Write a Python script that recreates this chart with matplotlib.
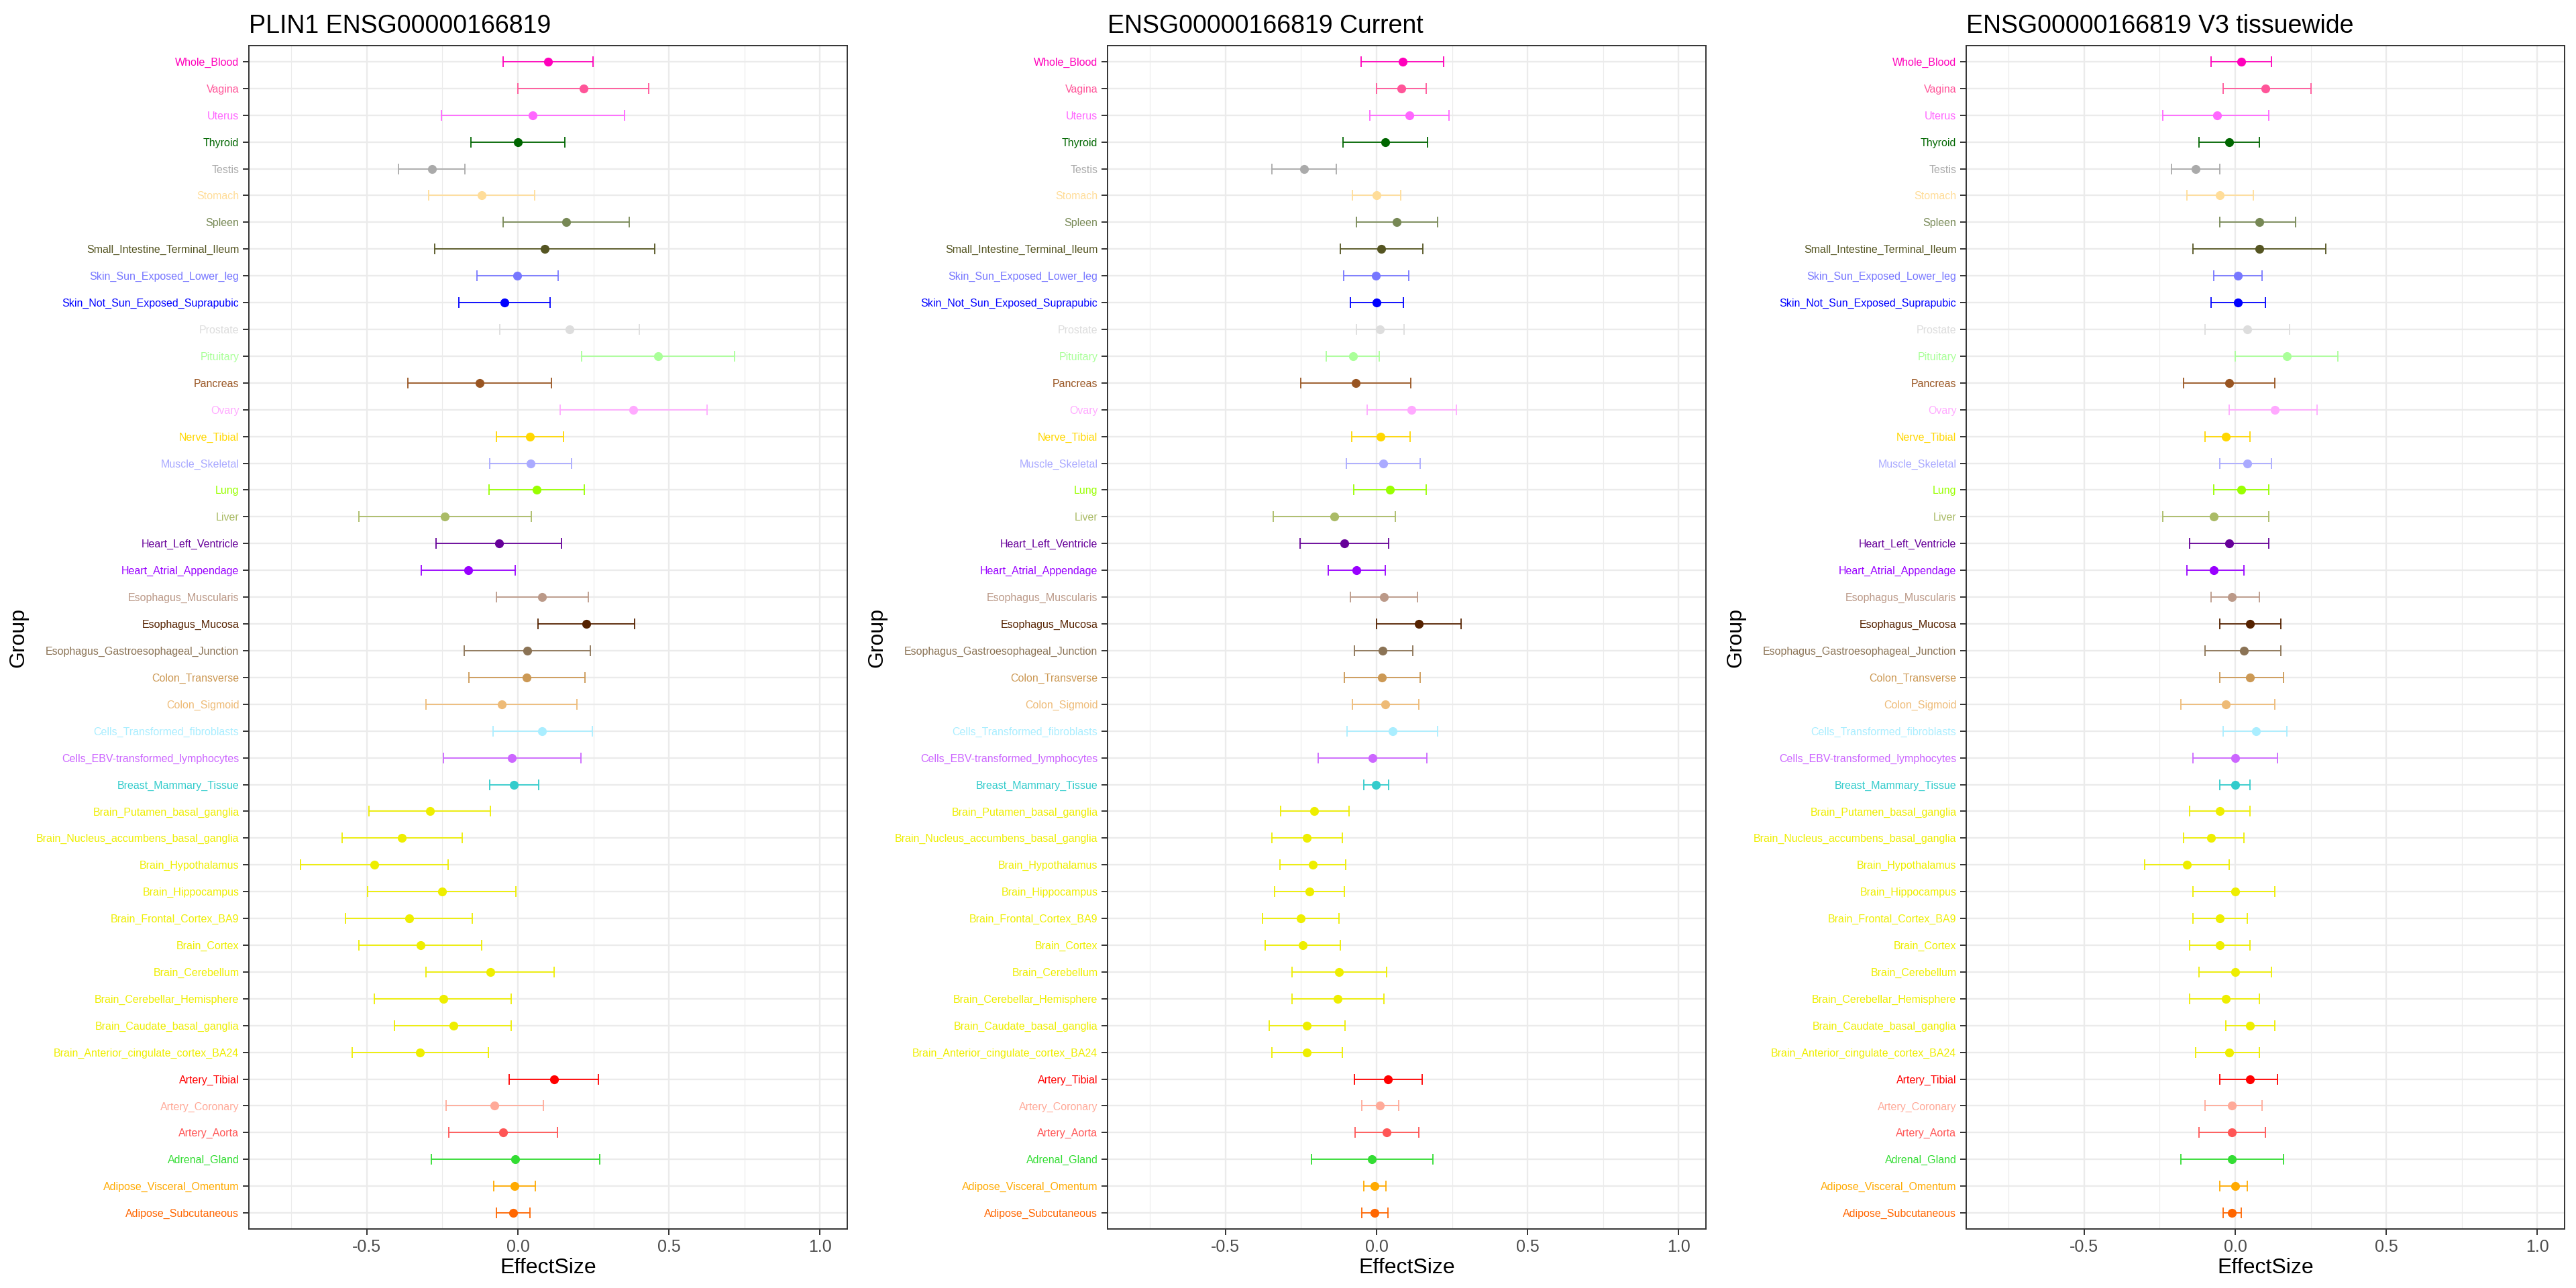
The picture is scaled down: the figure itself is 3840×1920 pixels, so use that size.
import matplotlib
matplotlib.use("Agg")
import matplotlib.pyplot as plt
from matplotlib.ticker import MultipleLocator

plt.rcParams['font.family'] = ['Liberation Sans', 'DejaVu Sans']

# tissues, top of the chart first
tissues = ["Whole_Blood", "Vagina", "Uterus", "Thyroid", "Testis", "Stomach", "Spleen",
           "Small_Intestine_Terminal_Ileum", "Skin_Sun_Exposed_Lower_leg",
           "Skin_Not_Sun_Exposed_Suprapubic", "Prostate", "Pituitary", "Pancreas", "Ovary",
           "Nerve_Tibial", "Muscle_Skeletal", "Lung", "Liver", "Heart_Left_Ventricle",
           "Heart_Atrial_Appendage", "Esophagus_Muscularis", "Esophagus_Mucosa",
           "Esophagus_Gastroesophageal_Junction", "Colon_Transverse", "Colon_Sigmoid",
           "Cells_Transformed_fibroblasts", "Cells_EBV-transformed_lymphocytes",
           "Breast_Mammary_Tissue", "Brain_Putamen_basal_ganglia",
           "Brain_Nucleus_accumbens_basal_ganglia", "Brain_Hypothalamus", "Brain_Hippocampus",
           "Brain_Frontal_Cortex_BA9", "Brain_Cortex", "Brain_Cerebellum",
           "Brain_Cerebellar_Hemisphere", "Brain_Caudate_basal_ganglia",
           "Brain_Anterior_cingulate_cortex_BA24", "Artery_Tibial", "Artery_Coronary",
           "Artery_Aorta", "Adrenal_Gland", "Adipose_Visceral_Omentum", "Adipose_Subcutaneous"]

colors = ["#FF00BB", "#FF5599", "#FF66FF", "#006600", "#AAAAAA", "#FFDD99", "#778855",
          "#555522", "#7777FF", "#0000FF", "#DDDDDD", "#AAFF99", "#995522", "#FFAAFF",
          "#FFD700", "#AAAAFF", "#99FF00", "#AABB66", "#660099", "#9900FF", "#BB9988",
          "#552200", "#8B7355", "#CC9955", "#EEBB77", "#AAEEFF", "#CC66FF", "#33CCCC",
          "#EEEE00", "#EEEE00", "#EEEE00", "#EEEE00", "#EEEE00", "#EEEE00", "#EEEE00",
          "#EEEE00", "#EEEE00", "#EEEE00", "#FF0000", "#FFAA99", "#FF5555", "#33DD33",
          "#FFAA00", "#FF6600"]

titles = ["PLIN1 ENSG00000166819", "ENSG00000166819 Current", "ENSG00000166819 V3 tissuewide"]

# panel 1
p1_lo = [-0.049, 0.000, -0.252, -0.156, -0.395, -0.295, -0.048, -0.275, -0.136, -0.195, -0.059,
         0.212, -0.364, 0.141, -0.071, -0.093, -0.095, -0.527, -0.270, -0.320, -0.071, 0.067,
         -0.177, -0.163, -0.303, -0.083, -0.247, -0.093, -0.492, -0.581, -0.718, -0.496, -0.570,
         -0.526, -0.305, -0.474, -0.409, -0.549, -0.029, -0.238, -0.228, -0.286, -0.079, -0.071]
p1_est = [0.100, 0.217, 0.049, 0.000, -0.285, -0.120, 0.160, 0.088, -0.001, -0.044, 0.170,
          0.464, -0.127, 0.383, 0.040, 0.042, 0.063, -0.242, -0.062, -0.164, 0.081, 0.226,
          0.032, 0.030, -0.054, 0.081, -0.020, -0.013, -0.290, -0.383, -0.474, -0.251, -0.359,
          -0.322, -0.092, -0.247, -0.214, -0.323, 0.119, -0.077, -0.048, -0.008, -0.010, -0.015]
p1_hi = [0.248, 0.434, 0.352, 0.156, -0.175, 0.055, 0.369, 0.453, 0.134, 0.107, 0.401,
         0.716, 0.111, 0.625, 0.151, 0.177, 0.219, 0.044, 0.145, -0.008, 0.233, 0.386,
         0.240, 0.223, 0.195, 0.246, 0.208, 0.068, -0.090, -0.184, -0.231, -0.006, -0.150,
         -0.119, 0.121, -0.021, -0.021, -0.098, 0.267, 0.084, 0.131, 0.272, 0.058, 0.040]

# panel 2
p2_lo = [-0.050, 0.001, -0.023, -0.111, -0.347, -0.079, -0.067, -0.120, -0.108, -0.086, -0.067,
         -0.166, -0.251, -0.030, -0.082, -0.100, -0.076, -0.342, -0.252, -0.159, -0.087, 0.000,
         -0.074, -0.106, -0.079, -0.097, -0.194, -0.042, -0.318, -0.346, -0.319, -0.338, -0.377,
         -0.368, -0.280, -0.280, -0.356, -0.346, -0.073, -0.049, -0.072, -0.216, -0.042, -0.049]
p2_est = [0.086, 0.082, 0.108, 0.029, -0.240, 0.000, 0.067, 0.016, -0.001, 0.001, 0.011,
          -0.078, -0.069, 0.116, 0.014, 0.023, 0.044, -0.140, -0.106, -0.066, 0.024, 0.140,
          0.021, 0.018, 0.029, 0.053, -0.014, -0.001, -0.206, -0.230, -0.211, -0.222, -0.251,
          -0.243, -0.124, -0.129, -0.231, -0.230, 0.038, 0.011, 0.033, -0.015, -0.006, -0.006]
p2_hi = [0.222, 0.164, 0.240, 0.169, -0.132, 0.079, 0.202, 0.154, 0.107, 0.088, 0.091,
         0.010, 0.113, 0.264, 0.110, 0.145, 0.164, 0.063, 0.039, 0.029, 0.135, 0.280,
         0.119, 0.145, 0.139, 0.202, 0.166, 0.039, -0.092, -0.112, -0.102, -0.106, -0.124,
         -0.120, 0.034, 0.024, -0.105, -0.112, 0.150, 0.073, 0.139, 0.187, 0.032, 0.038]

# panel 3
p3_lo = [-0.08, -0.04, -0.24, -0.12, -0.21, -0.16, -0.05, -0.14, -0.07, -0.08, -0.10,
         0.00, -0.17, -0.02, -0.10, -0.05, -0.07, -0.24, -0.15, -0.16, -0.08, -0.05,
         -0.10, -0.05, -0.18, -0.04, -0.14, -0.05, -0.15, -0.17, -0.30, -0.14, -0.14,
         -0.15, -0.12, -0.15, -0.03, -0.13, -0.05, -0.10, -0.12, -0.18, -0.05, -0.04]
p3_est = [0.02, 0.10, -0.06, -0.02, -0.13, -0.05, 0.08, 0.08, 0.01, 0.01, 0.04,
          0.17, -0.02, 0.13, -0.03, 0.04, 0.02, -0.07, -0.02, -0.07, -0.01, 0.05,
          0.03, 0.05, -0.03, 0.07, 0.00, 0.00, -0.05, -0.08, -0.16, 0.00, -0.05,
          -0.05, 0.00, -0.03, 0.05, -0.02, 0.05, -0.01, -0.01, -0.01, 0.00, -0.01]
p3_hi = [0.12, 0.25, 0.11, 0.08, -0.05, 0.06, 0.20, 0.30, 0.09, 0.10, 0.18,
         0.34, 0.13, 0.27, 0.05, 0.12, 0.11, 0.11, 0.11, 0.03, 0.08, 0.15,
         0.15, 0.16, 0.13, 0.17, 0.14, 0.05, 0.05, 0.03, -0.02, 0.13, 0.04,
         0.05, 0.12, 0.08, 0.13, 0.08, 0.14, 0.09, 0.10, 0.16, 0.04, 0.02]

panels = [(p1_lo, p1_est, p1_hi), (p2_lo, p2_est, p2_hi), (p3_lo, p3_est, p3_hi)]

n = len(tissues)
ypos = [n - i for i in range(n)]

fig = plt.figure(figsize=(38.4, 19.2), dpi=100)
lefts = [371, 1651, 2931]
for k, (lo, est, hi) in enumerate(panels):
    ax = fig.add_axes([lefts[k] / 3840, 88 / 1920, 892 / 3840, 1764 / 1920])
    for i in range(n):
        ax.errorbar(est[i], ypos[i], xerr=[[est[i] - lo[i]], [hi[i] - est[i]]],
                    fmt='o', color=colors[i], ms=8.5, elinewidth=1.3, capsize=5.5,
                    capthick=1.3, zorder=3)
    ax.set_xlim(-0.89, 1.09)
    ax.set_ylim(0.4, n + 0.6)
    ax.set_yticks(ypos)
    ax.set_yticklabels(tissues, fontsize=11.5)
    for lab, c in zip(ax.get_yticklabels(), colors):
        lab.set_color(c)
    ax.xaxis.set_major_locator(MultipleLocator(0.5))
    ax.xaxis.set_minor_locator(MultipleLocator(0.25))
    ax.set_xticks([-0.5, 0.0, 0.5, 1.0])
    ax.set_xticklabels(["-0.5", "0.0", "0.5", "1.0"], fontsize=18, color="#4D4D4D")
    ax.tick_params(axis='both', which='major', length=6.5, width=1.4, color="#333333", pad=4)
    ax.tick_params(axis='x', which='minor', length=0)
    ax.grid(which='major', color="#EBEBEB", linewidth=1.7, zorder=0)
    ax.grid(which='minor', axis='x', color="#EBEBEB", linewidth=0.85, zorder=0)
    ax.set_axisbelow(True)
    for s in ax.spines.values():
        s.set_color("#333333")
        s.set_linewidth(1.4)
    ax.set_xlabel("EffectSize", fontsize=23, labelpad=3)
    ax.set_ylabel("Group", fontsize=23, labelpad=8)
    ax.set_title(titles[k], fontsize=27, loc='left', pad=14)

fig.savefig("out.png", dpi=100)
